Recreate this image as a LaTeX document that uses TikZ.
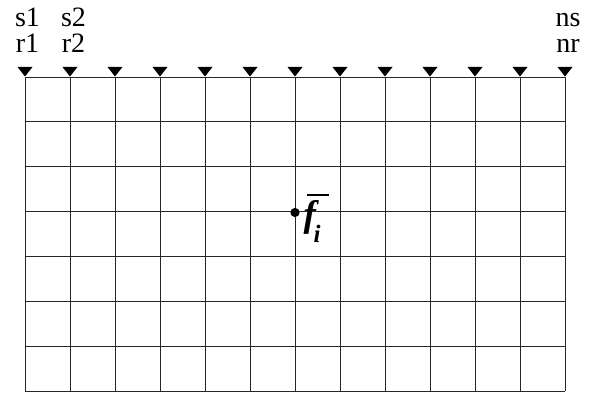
\documentclass[tikz,border=0pt]{standalone}
\usepackage{fontspec}
\setmainfont{Liberation Serif}
\begin{document}
\begin{tikzpicture}[x=1pt,y=-1pt,
  gridline/.style={line width=0.9pt,black!85},
  recv/.style={fill=black,draw=none},
  lbl/.style={font=\fontsize{28}{28}\selectfont,inner sep=0pt,anchor=base}]
\useasboundingbox (0,0) rectangle (590,393);
% grid
\foreach \i in {0,...,12} {
  \draw[gridline] ({25+45*\i},77) -- ({25+45*\i},391);
  \fill[recv] ({25+45*\i-7.5},67) -- ({25+45*\i+7.5},67) -- ({25+45*\i},76.5) -- cycle;
}
\foreach \j in {0,...,7} {
  \draw[gridline] (25,{77+44.857*\j}) -- (565,{77+44.857*\j});
}
% labels
\node[lbl] (s1) at (27.5,27) {s1};
\node[lbl] (r1) at (27.5,53) {r1};
\node[lbl] (s2) at (73.5,27) {s2};
\node[lbl] (r2) at (73.5,53) {r2};
\node[lbl] (ns) at (568,27) {ns};
\node[lbl] (nr) at (568,53) {nr};
% point
\coordinate (p) at (295,212.5);
\fill (p) circle[radius=4.6pt];
\node[inner sep=0pt,anchor=base west,font=\fontsize{37}{37}\selectfont\bfseries\itshape] (f) at (303.5,227)
  {f\kern-2.5pt\raisebox{-16pt}{\fontsize{25}{25}\selectfont i}};
\draw[line width=1.5pt] (307,195) -- (329,195);
\end{tikzpicture}
\end{document}
